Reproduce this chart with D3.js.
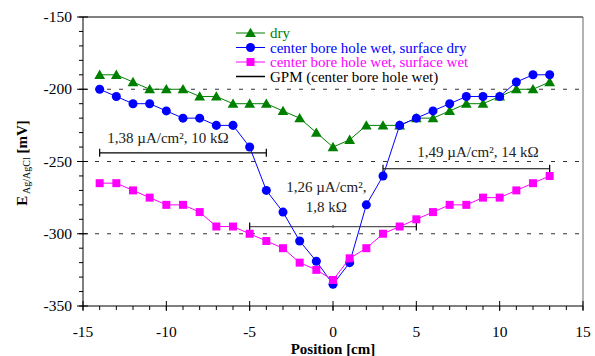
<!DOCTYPE html>
<meta charset="utf-8">
<script src="https://d3js.org/d3.v7.min.js"></script>
<body style="margin:0; background:#fff">
<div id="chart"></div>
<script>
  // data
  const positions = [-14,-13,-12,-11,-10,-9,-8,-7,-6,-5,-4,-3,-2,-1,0,1,2,3,4,5,6,7,8,9,10,11,12,13];
  const dry = [-190,-190,-195,-200,-200,-200,-205,-205,-210,-210,-210,-215,-220,-230,-240,-235,-225,-225,-225,-220,-220,-215,-210,-210,-205,-200,-200,-195];
  const wetDry = [-200,-205,-210,-210,-215,-220,-220,-225,-225,-240,-270,-285,-305,-319,-335,-320,-280,-260,-225,-220,-215,-210,-205,-205,-205,-195,-190,-190];
  const wetWet = [-265,-265,-270,-275,-280,-280,-285,-295,-295,-300,-305,-310,-320,-325,-332,-317,-310,-300,-295,-290,-285,-280,-280,-275,-275,-270,-265,-260];
  const seriesNames = ["dry", "center bore hole wet, surface dry", "center bore hole wet, surface wet", "GPM (center bore hole wet)"];
  const gpmFrom = [-14, -5, 3];
  const gpmTo = [-4, 5, 13];
  const gpmLevel = [-244, -295, -255];
  const xTicks = [-15, -10, -5, 0, 5, 10, 15];
  const yTicks = [-350, -300, -250, -200, -150];

  const W = 595, H = 356;
  const margin = {top: 17, right: 12, bottom: 50, left: 83};
  const width = W - margin.left - margin.right,
        height = H - margin.top - margin.bottom;
  const FONT = "'Liberation Serif'";

  const svg = d3.select("#chart").append("svg")
    .attr("width", W).attr("height", H)
    .style("font-family", FONT);
  const g = svg.append("g").attr("transform", `translate(${margin.left},${margin.top})`);

  const x = d3.scaleLinear().domain([-15, 15]).range([0, width]);
  const y = d3.scaleLinear().domain([-350, -150]).range([height, 0]);

  // dashed grid
  g.selectAll(".grid").data([-300, -250, -200]).join("line")
    .attr("x1", 0).attr("x2", width)
    .attr("y1", d => y(d)).attr("y2", d => y(d))
    .attr("stroke", "#333").attr("stroke-dasharray", "4,8");

  // frame top / right
  g.append("line").attr("x1", 0).attr("x2", width).attr("y1", 0).attr("y2", 0)
    .attr("stroke", "#000");
  g.append("line").attr("x1", width).attr("x2", width).attr("y1", 0).attr("y2", height)
    .attr("stroke", "#666");

  // y axis
  const yAxis = g.append("g");
  yAxis.append("line").attr("x1", 0).attr("x2", 0).attr("y1", 0).attr("y2", height).attr("stroke", "#000");
  yAxis.selectAll(".ymin").data(d3.range(-350, -149, 10)).join("line")
    .attr("x1", -4).attr("x2", 0)
    .attr("y1", d => y(d)).attr("y2", d => y(d)).attr("stroke", "#000");
  yAxis.selectAll(".ymaj").data(yTicks).join("line")
    .attr("x1", -6).attr("x2", 5)
    .attr("y1", d => y(d)).attr("y2", d => y(d)).attr("stroke", "#000");
  yAxis.selectAll(".ylab").data(yTicks).join("text")
    .attr("x", -11).attr("y", d => y(d) + 5)
    .attr("text-anchor", "end")
    .style("font-family", FONT).style("font-size", "15.5px")
    .text(d => d);

  // x axis
  const xAxis = g.append("g").attr("transform", `translate(0,${height})`);
  xAxis.append("line").attr("x1", 0).attr("x2", width).attr("stroke", "#000");
  xAxis.selectAll(".xmin").data(d3.range(-15, 16, 1)).join("line")
    .attr("x1", d => x(d)).attr("x2", d => x(d))
    .attr("y1", 0).attr("y2", 4).attr("stroke", "#000");
  xAxis.selectAll(".xmaj").data(xTicks).join("line")
    .attr("x1", d => x(d)).attr("x2", d => x(d))
    .attr("y1", -5).attr("y2", 5).attr("stroke", "#000");
  xAxis.selectAll(".xlab").data(xTicks).join("text")
    .attr("x", d => x(d)).attr("y", 31)
    .attr("text-anchor", "middle")
    .style("font-family", FONT).style("font-size", "15.5px")
    .text(d => d);

  // axis titles
  svg.append("text")
    .attr("x", margin.left + x(0)).attr("y", 354)
    .attr("text-anchor", "middle")
    .style("font-family", FONT).style("font-size", "15px").style("font-weight", "bold")
    .text("Position [cm]");

  const yt = svg.append("text")
    .attr("transform", "translate(27,163) rotate(-90)")
    .attr("text-anchor", "middle")
    .style("font-family", FONT).style("font-size", "15px").style("font-weight", "bold");
  yt.append("tspan").text("E");
  yt.append("tspan").attr("dy", 3).style("font-size", "10px").style("font-weight", "normal").text(" Ag/AgCl");
  yt.append("tspan").attr("dy", -3).text("  [mV]");

  // GPM bars
  const gpm = gpmFrom.map((d, i) => ({a: d, b: gpmTo[i], v: gpmLevel[i]}));
  const gpmCol = ["#000", "#555", "#000"];
  gpm.forEach((d, i) => {
    const gg = g.append("g").attr("stroke", gpmCol[i]).attr("stroke-width", 1.2);
    gg.append("line").attr("x1", x(d.a)).attr("x2", x(d.b)).attr("y1", y(d.v)).attr("y2", y(d.v));
    [d.a, d.b].forEach(e => gg.append("line")
      .attr("x1", x(e)).attr("x2", x(e)).attr("y1", y(d.v) - 4).attr("y2", y(d.v) + 4)
      .attr("stroke", "#000"));
    if (i === 1) gg.append("line").attr("x1", x(0)).attr("x2", x(0)).attr("y1", y(d.v) - 1.5).attr("y2", y(d.v) + 1.5);
  });

  // GPM labels
  const ann = g.append("g").attr("fill", "#222");
  const annText = (tx, ty, s) => ann.append("text").attr("x", tx).attr("y", ty)
    .attr("text-anchor", "middle")
    .style("font-family", FONT).style("font-size", "15px").text(s);
  annText(x(-9.9), y(-244) - 10, "1,38 \u00b5A/cm\u00b2, 10 k\u03a9");
  annText(x(8.7), y(-255) - 12, "1,49 \u00b5A/cm\u00b2, 14 k\u03a9");
  annText(x(-0.4), y(-271), "1,26 \u00b5A/cm\u00b2,");
  annText(x(-0.4), y(-285), "1,8 k\u03a9");

  // series
  const colors = ["#008000", "#0000ff", "#ff00ff"];
  const symbols = [d3.symbolTriangle, d3.symbolCircle, d3.symbolSquare];
  const symSize = [50, 64, 64];
  const allSeries = [dry, wetDry, wetWet];
  const line = d3.line().x(d => x(d.p)).y(d => y(d.v));

  allSeries.forEach((vals, i) => {
    const pts = positions.map((p, j) => ({p: p, v: vals[j]}));
    g.append("path").datum(pts)
      .attr("d", line).attr("fill", "none")
      .attr("stroke", colors[i]).attr("stroke-width", 1);
    g.selectAll(".m" + i).data(pts).join("path")
      .attr("transform", d => `translate(${x(d.p)},${y(d.v) + (i === 0 ? 1 : 0)})`)
      .attr("d", d3.symbol().type(symbols[i]).size(symSize[i]))
      .attr("fill", colors[i]);
  });

  // legend
  const leg = svg.append("g").attr("transform", "translate(236,33)");
  seriesNames.forEach((name, i) => {
    const row = leg.append("g").attr("transform", `translate(0,${i * 14.5})`);
    row.append("line").attr("x1", 0).attr("x2", 29).attr("stroke", i < 3 ? colors[i] : "#000")
      .attr("stroke-width", i < 3 ? 1 : 1.5);
    if (i < 3) row.append("path")
      .attr("transform", `translate(14.5,${i === 0 ? 1 : 0})`)
      .attr("d", d3.symbol().type(symbols[i]).size(symSize[i]))
      .attr("fill", colors[i]);
    row.append("text").attr("x", 34).attr("y", 5)
      .style("font-family", FONT).style("font-size", "15px")
      .attr("fill", i < 3 ? colors[i] : "#000")
      .text(name);
  });
</script>
</body>
